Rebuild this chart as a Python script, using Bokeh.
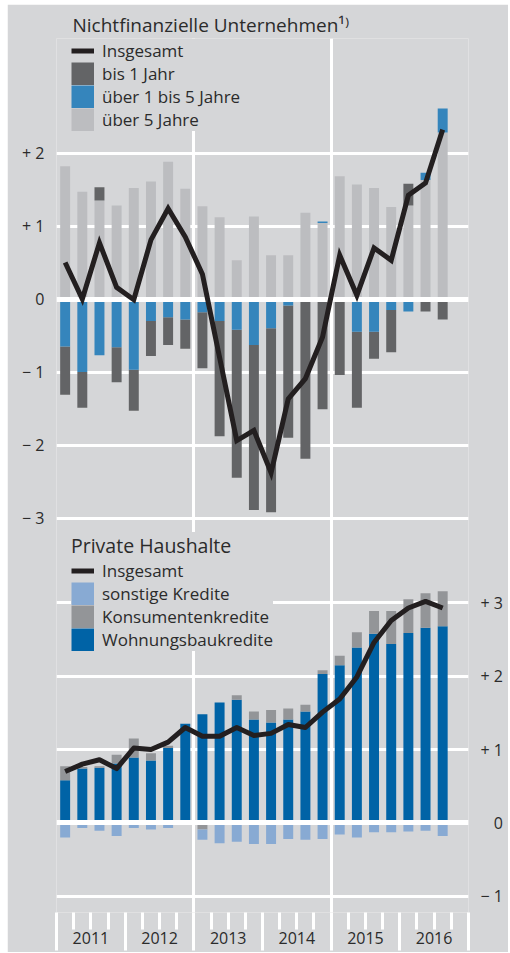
import numpy as np
from bokeh.plotting import figure
from bokeh.models import Range1d, LinearAxis, FixedTicker, Grid, Legend, LegendItem
from bokeh.embed import file_html
from bokeh.resources import INLINE

# ---------------- data ----------------
quarters = ["2011 Q1", "2011 Q2", "2011 Q3", "2011 Q4",
            "2012 Q1", "2012 Q2", "2012 Q3", "2012 Q4",
            "2013 Q1", "2013 Q2", "2013 Q3", "2013 Q4",
            "2014 Q1", "2014 Q2", "2014 Q3", "2014 Q4",
            "2015 Q1", "2015 Q2", "2015 Q3", "2015 Q4",
            "2016 Q1", "2016 Q2", "2016 Q3"]

# Nichtfinanzielle Unternehmen
nfu_insgesamt = [0.50, 0.00, 0.77, 0.16, -0.01, 0.81, 1.24, 0.85, 0.34, -0.80, -1.94, -1.80,
                 -2.38, -1.37, -1.09, -0.52, 0.60, 0.05, 0.70, 0.53, 1.42, 1.59, 2.32]
nfu_bis1 = [-0.66, -0.49, 0.18, -0.48, -0.56, -0.48, -0.38, -0.40, -0.77, -1.58, -2.03, -2.26,
            -2.52, -1.81, -2.19, -1.51, -1.02, -1.04, -0.37, -0.58, 0.30, -0.17, -0.28]
nfu_1bis5 = [-0.65, -1.00, -0.77, -0.66, -0.97, -0.30, -0.25, -0.28, -0.18, -0.30, -0.42, -0.63,
             -0.40, -0.09, 0.00, 0.02, -0.02, -0.45, -0.45, -0.15, -0.17, 0.10, 0.33]
nfu_ueber5 = [1.82, 1.47, 1.35, 1.28, 1.52, 1.61, 1.88, 1.51, 1.27, 1.12, 0.53, 1.13,
              0.60, 0.60, 1.18, 1.04, 1.68, 1.57, 1.52, 1.26, 1.28, 1.63, 2.28]

# Private Haushalte
hh_insgesamt = [0.70, 0.80, 0.86, 0.74, 1.02, 1.00, 1.10, 1.30, 1.18, 1.18, 1.30, 1.19,
                1.22, 1.34, 1.30, 1.51, 1.69, 1.99, 2.46, 2.76, 2.93, 3.02, 2.93]
hh_wohnungsbau = [0.58, 0.74, 0.75, 0.81, 0.89, 0.85, 1.02, 1.35, 1.48, 1.64, 1.68, 1.41,
                  1.37, 1.41, 1.52, 2.03, 2.15, 2.39, 2.58, 2.44, 2.59, 2.66, 2.68]
hh_konsum = [0.19, 0.02, 0.02, 0.12, 0.26, 0.10, 0.03, 0.00, -0.09, -0.02, 0.06, 0.11,
             0.17, 0.15, 0.09, 0.05, 0.13, 0.21, 0.31, 0.45, 0.46, 0.47, 0.48]
hh_sonstige = [-0.20, -0.07, -0.11, -0.18, -0.07, -0.09, -0.07, 0.00, -0.14, -0.26, -0.26, -0.29,
               -0.29, -0.22, -0.23, -0.22, -0.16, -0.20, -0.13, -0.13, -0.12, -0.11, -0.18]

years = [2011, 2012, 2013, 2014, 2015, 2016]
year_labels = ["2011", "2012", "2013", "2014", "2015", "2016"]
year_bounds = [2011, 2012, 2013, 2014, 2015, 2016, 2017]
vlines_at = [2013, 2015]

top_yticks = [-3, -2, -1, 1, 2]
top_ylabel_ticks = [-3, -2, -1, 0, 1, 2]
top_ytick_labels = ["\u2212 3", "\u2212 2", "\u2212 1", "0", "+ 1", "+ 2"]
hh_yticks = [-1, 1, 2, 3]
hh_ylabel_ticks = [-1, 0, 1, 2, 3]
hh_ytick_labels = ["\u2212 1", "\u2007 0", "+ 1", "+ 2", "+ 3"]
zero_line = [0]

title_top = "Nichtfinanzielle Unternehmen\u00b9\u207e"
title_hh = "Private Haushalte"
nfu_names = ["Insgesamt", "bis 1 Jahr", "über 1 bis 5 Jahre", "über 5 Jahre"]
hh_names = ["Insgesamt", "sonstige Kredite", "Konsumentenkredite", "Wohnungsbaukredite"]

# ---------------- style ----------------
BG = "#d5d6d8"
TXT = "#2b2b2b"
LINE = "#231f20"
C_BIS1 = "#636466"
C_1BIS5 = "#3585bc"
C_UE5 = "#bcbdc0"
C_WOHN = "#0063a6"
C_KONS = "#939598"
C_SONST = "#88aad3"
FONT = "Open Sans"
BAR_W = 0.145

x = np.array([int(q[:4]) + (int(q[-1]) - 0.5) / 4.0 for q in quarters])


def stack(values, pos_order, neg_order):
    n = len(x)
    pos = np.zeros(n)
    neg = np.zeros(n)
    out = {k: [np.zeros(n), np.zeros(n)] for k in values}
    for k in pos_order:
        v = np.asarray(values[k], float)
        m = v > 0
        out[k][0][m] = pos[m]
        out[k][1][m] = pos[m] + v[m]
        pos[m] += v[m]
    for k in neg_order:
        v = np.asarray(values[k], float)
        m = v < 0
        out[k][1][m] = neg[m]
        out[k][0][m] = neg[m] + v[m]
        neg[m] += v[m]
    return out


top_st = stack({"b1": nfu_bis1, "b15": nfu_1bis5, "u5": nfu_ueber5},
               ["u5", "b1", "b15"], ["b15", "b1", "u5"])
hh_st = stack({"w": hh_wohnungsbau, "k": hh_konsum, "s": hh_sonstige},
              ["w", "k", "s"], ["k", "s", "w"])

p = figure(width=501, height=948, output_backend="svg", toolbar_location=None,
           x_range=Range1d(2010.999, 2017.001), y_range=Range1d(-8.4041, 3.5685),
           x_axis_type=None, y_axis_type=None,
           min_border_left=49, min_border_right=40, min_border_top=34, min_border_bottom=40,
           background_fill_color=BG, border_fill_color=BG, outline_line_color=None,
           title=title_top)
p.margin = (4, 2, 0, 7)
p.extra_y_ranges = {"hh": Range1d(-1.2237, 10.6999)}

p.title.align = "left"
p.title.offset = 16
p.title.standoff = 2
p.title.text_font = FONT
p.title.text_font_size = "19px"
p.title.text_font_style = "normal"
p.title.text_color = TXT

# grids
p.add_layout(Grid(dimension=1, ticker=FixedTicker(ticks=top_yticks),
                  grid_line_color="white", grid_line_width=3))
p.add_layout(Grid(dimension=1, ticker=FixedTicker(ticks=hh_yticks), y_range_name="hh",
                  grid_line_color="white", grid_line_width=3))
p.add_layout(Grid(dimension=0, ticker=FixedTicker(ticks=vlines_at),
                  grid_line_color="white", grid_line_width=3))

# top bars
p.vbar(x=x, width=BAR_W, bottom=top_st["u5"][0], top=top_st["u5"][1],
       fill_color=C_UE5, line_color=None)
p.vbar(x=x, width=BAR_W, bottom=top_st["b1"][0], top=top_st["b1"][1],
       fill_color=C_BIS1, line_color=None)
p.vbar(x=x, width=BAR_W, bottom=top_st["b15"][0], top=top_st["b15"][1],
       fill_color=C_1BIS5, line_color=None)
# bottom bars
p.vbar(x=x, width=BAR_W, bottom=hh_st["w"][0], top=hh_st["w"][1],
       fill_color=C_WOHN, line_color=None, y_range_name="hh")
p.vbar(x=x, width=BAR_W, bottom=hh_st["k"][0], top=hh_st["k"][1],
       fill_color=C_KONS, line_color=None, y_range_name="hh")
p.vbar(x=x, width=BAR_W, bottom=hh_st["s"][0], top=hh_st["s"][1],
       fill_color=C_SONST, line_color=None, y_range_name="hh")

# zero lines
p.hspan(y=zero_line, line_color="white", line_width=5)
p.hspan(y=zero_line, line_color="white", line_width=5, y_range_name="hh")

# total lines
r_l1 = p.line(x, nfu_insgesamt, line_color=LINE, line_width=5, line_join="miter")
r_l2 = p.line(x, hh_insgesamt, line_color=LINE, line_width=5, line_join="round",
              y_range_name="hh")

# legend swatches (square colour keys; one NaN point, so nothing is drawn in the plot)
def swatch(color):
    return p.line(x=x[:1], y=[np.nan], line_color=color, line_width=23, line_cap="butt")

sw_b1, sw_b15, sw_u5 = swatch(C_BIS1), swatch(C_1BIS5), swatch(C_UE5)
sw_s, sw_k, sw_w = swatch(C_SONST), swatch(C_KONS), swatch(C_WOHN)

# axes
def yaxis(ticks, labels, **kw):
    return LinearAxis(ticker=FixedTicker(ticks=ticks),
                      major_label_overrides=dict(zip(ticks, labels)),
                      axis_line_color=None, major_tick_line_color=None,
                      minor_tick_line_color=None, major_tick_in=0, major_tick_out=0,
                      minor_tick_in=0, minor_tick_out=0, major_label_standoff=12,
                      major_label_text_font=FONT, major_label_text_font_size="16px",
                      major_label_text_color=TXT, **kw)

p.add_layout(yaxis(top_ylabel_ticks, top_ytick_labels), "left")
p.add_layout(yaxis(hh_ylabel_ticks, hh_ytick_labels, y_range_name="hh"), "right")

q_ticks = []
q_labels = []
for yv, yl in zip(years, year_labels):
    for frac, lab in ((0.25, ""), (0.5, yl), (0.75, "")):
        q_ticks.append(yv + frac)
        q_labels.append(lab)
xax = LinearAxis(ticker=FixedTicker(ticks=q_ticks, minor_ticks=year_bounds),
                 major_label_overrides=dict(zip(q_ticks, q_labels)),
                 axis_line_color=None,
                 major_tick_in=0, major_tick_out=17, major_tick_line_color="white",
                 major_tick_line_width=3,
                 minor_tick_in=0, minor_tick_out=38, minor_tick_line_color="white",
                 minor_tick_line_width=3,
                 major_label_standoff=-19, major_label_text_font=FONT,
                 major_label_text_font_size="16px", major_label_text_color=TXT)
p.add_layout(xax, "below")

# legends
common = dict(glyph_width=23, glyph_height=23, spacing=0, label_standoff=8,
              label_height=23, label_text_font=FONT, label_text_font_size="17px",
              label_text_color=TXT, background_fill_color=BG, background_fill_alpha=1.0,
              border_line_color=None, margin=0, padding=0)
leg1 = Legend(items=[LegendItem(label=nfu_names[0], renderers=[r_l1]),
                     LegendItem(label=nfu_names[1], renderers=[sw_b1]),
                     LegendItem(label=nfu_names[2], renderers=[sw_b15]),
                     LegendItem(label=nfu_names[3], renderers=[sw_u5])],
              location=(15, 781), **common)
leg2 = Legend(items=[LegendItem(label=hh_names[0], renderers=[r_l2]),
                     LegendItem(label=hh_names[1], renderers=[sw_s]),
                     LegendItem(label=hh_names[2], renderers=[sw_k]),
                     LegendItem(label=hh_names[3], renderers=[sw_w])],
              location=(15, 261), title=title_hh, title_text_font=FONT,
              title_text_font_size="19.5px", title_text_font_style="normal",
              title_text_color=TXT, title_standoff=0, **common)
p.add_layout(leg1)
p.add_layout(leg2)

open("out.html", "w").write(file_html(p, INLINE))
